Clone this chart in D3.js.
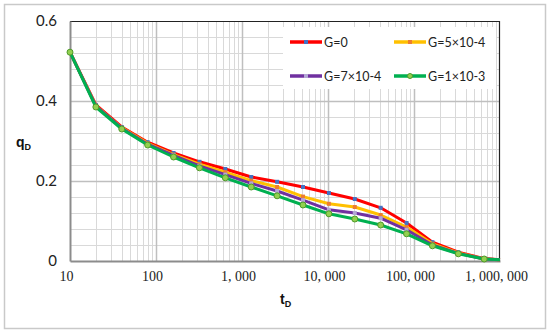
<!DOCTYPE html>
<html>
<head>
<meta charset="utf-8">
<script src="https://cdn.jsdelivr.net/npm/d3@7"></script>
<style>
	body { margin: 0; background: #fff; }
	svg { display: block; }
</style>
</head>
<body>
<svg id="chart"></svg>
<script>
// dimensionless time (doubling steps) and rate for each G
const tD = [10, 20, 40, 80, 160, 320, 640, 1280, 2560, 5120, 10240, 20480, 40960, 81920, 163840, 327680, 655360, 1000000];
const qG0 = [0.522, 0.390, 0.335, 0.297, 0.270, 0.248, 0.230, 0.210, 0.198, 0.185, 0.170, 0.155, 0.133, 0.095, 0.047, 0.022, 0.006, 0.003];
const qG5 = [0.522, 0.388, 0.333, 0.294, 0.266, 0.242, 0.222, 0.201, 0.185, 0.161, 0.143, 0.135, 0.115, 0.085, 0.043, 0.020, 0.005, 0.003];
const qG7 = [0.522, 0.387, 0.332, 0.292, 0.264, 0.238, 0.216, 0.194, 0.175, 0.152, 0.128, 0.120, 0.107, 0.078, 0.040, 0.019, 0.005, 0.003];
const qG10 = [0.522, 0.385, 0.330, 0.290, 0.260, 0.233, 0.208, 0.185, 0.163, 0.140, 0.118, 0.105, 0.090, 0.068, 0.038, 0.018, 0.005, 0.003];

const seriesNames = ["G=0", "G=5×10-4", "G=7×10-4", "G=1×10-3"];
const xTicks = [10, 100, 1000, 10000, 100000, 1000000];
const xTickLabels = ["10", "100", "1, 000", "10, 000", "100, 000", "1, 000, 000"];
const yTicks = [0, 0.2, 0.4, 0.6];

const series = [
	{ name: seriesNames[0], q: qG0, color: "#ff0000", marker: "#4472c4", shape: "square" },
	{ name: seriesNames[1], q: qG5, color: "#ffc000", marker: "#ed7d31", shape: "square" },
	{ name: seriesNames[2], q: qG7, color: "#7030a0", marker: "#b4a7d6", shape: "square" },
	{ name: seriesNames[3], q: qG10, color: "#00b050", marker: "#92d050", shape: "circle" }
];

let svgWidth = 550, svgHeight = 334;
let margin = { top: 21, right: 50, bottom: 73, left: 70 };
let width = svgWidth - margin.left - margin.right;
let height = svgHeight - margin.top - margin.bottom;

let svg = d3.select("#chart")
	.attr("width", svgWidth)
	.attr("height", svgHeight);

// outer frame
svg.append("rect")
	.attr("x", 4.5).attr("y", 4.5)
	.attr("width", 541).attr("height", 324)
	.attr("fill", "#fff")
	.attr("stroke", "#c9c9c9")
	.attr("stroke-width", 1.5);

let g = svg.append("g")
	.attr("transform", "translate(" + margin.left + "," + margin.top + ")");

//scales
let x = d3.scaleLog().domain([10, 1000000]).range([0, width]);
let y = d3.scaleLinear().domain([0, 0.6]).range([height, 0]);

// minor grid
let minorX = [];
for (let dec = 10; dec < 1000000; dec *= 10)
{
	for (let k = 2; k <= 9; k++) minorX.push(dec * k);
}
let minorY = d3.range(0.04, 0.6, 0.04).filter(v => Math.abs(v / 0.2 - Math.round(v / 0.2)) > 0.01);

g.append("g").selectAll("line")
	.data(minorX)
	.enter().append("line")
	.attr("x1", d => Math.round(x(d)) + 0.5).attr("x2", d => Math.round(x(d)) + 0.5)
	.attr("y1", 0).attr("y2", height)
	.attr("stroke", "#d9d9d9").attr("stroke-width", 1);

g.append("g").selectAll("line")
	.data(minorY)
	.enter().append("line")
	.attr("x1", 0).attr("x2", width)
	.attr("y1", d => Math.round(y(d)) + 0.5).attr("y2", d => Math.round(y(d)) + 0.5)
	.attr("stroke", "#d9d9d9").attr("stroke-width", 1);

// major grid
g.append("g").selectAll("line")
	.data(xTicks.slice(1, -1))
	.enter().append("line")
	.attr("x1", d => Math.round(x(d)) + 0.5).attr("x2", d => Math.round(x(d)) + 0.5)
	.attr("y1", 0).attr("y2", height)
	.attr("stroke", "#bfbfbf").attr("stroke-width", 1.5);

g.append("g").selectAll("line")
	.data(yTicks.slice(1, -1))
	.enter().append("line")
	.attr("x1", 0).attr("x2", width)
	.attr("y1", d => Math.round(y(d)) + 0.5).attr("y2", d => Math.round(y(d)) + 0.5)
	.attr("stroke", "#bfbfbf").attr("stroke-width", 1.5);

// plot border: top and right dark
g.append("path")
	.attr("d", "M0,0.5H" + (width - 0.5) + "V" + height)
	.attr("fill", "none")
	.attr("stroke", "#222")
	.attr("stroke-width", 1.2);

//append x-axis
let xAxis = g.append("g")
	.attr("transform", "translate(0," + height + ")")
	.call(d3.axisBottom(x).tickValues(xTicks).tickSize(0).tickPadding(10).tickFormat((d, i) => xTickLabels[i]));
xAxis.select(".domain").attr("stroke", "#8c8c8c").attr("stroke-width", 2);
xAxis.selectAll("text")
	.attr("dx", -4)
	.attr("font-family", "Liberation Serif, serif")
	.attr("font-size", 14)
	.attr("fill", "#222");

//append y-axis
let yAxis = g.append("g")
	.call(d3.axisLeft(y).tickValues(yTicks).tickSize(0).tickPadding(13).tickFormat(d => d === 0 ? "0" : d3.format(".1f")(d)));
yAxis.select(".domain").attr("stroke", "#8c8c8c").attr("stroke-width", 2);
yAxis.selectAll("text")
	.attr("font-family", "Lato, Open Sans, sans-serif")
	.attr("font-size", 15)
	.attr("fill", "#222");

// axis titles
let yTitle = svg.append("text")
	.attr("x", 16).attr("y", 147)
	.attr("font-family", "Liberation Sans, Arial, sans-serif")
	.attr("font-weight", "bold")
	.attr("font-size", 14)
	.attr("fill", "#111");
yTitle.append("tspan").text("q");
yTitle.append("tspan").attr("font-size", 9).attr("dy", 3).text("D");

let xTitle = svg.append("text")
	.attr("x", 280).attr("y", 304)
	.attr("font-family", "Liberation Sans, Arial, sans-serif")
	.attr("font-weight", "bold")
	.attr("font-size", 14)
	.attr("fill", "#111");
xTitle.append("tspan").text("t");
xTitle.append("tspan").attr("font-size", 9).attr("dy", 3).text("D");

// lines
let line = q => d3.line()
	.x((d, i) => x(tD[i]))
	.y(d => y(d))(q);

for (let i = 0; i < series.length; i++)
{
	let s = series[i];
	let pathGroup = g.append("g");

	pathGroup.append("path")
		.attr("d", line(s.q))
		.attr("fill", "none")
		.attr("stroke", s.color)
		.attr("stroke-width", 3)
		.attr("stroke-linejoin", "round");

	if (s.shape === "circle")
	{
		pathGroup.selectAll(".dot")
			.data(s.q.slice(0, -1))
			.enter().append("circle")
			.attr("cx", (d, j) => x(tD[j]))
			.attr("cy", d => y(d))
			.attr("r", 3)
			.attr("fill", s.marker)
			.attr("stroke", "#4f9a2a")
			.attr("stroke-width", 1);
	}
	else
	{
		pathGroup.selectAll(".dot")
			.data(s.q.slice(0, -1))
			.enter().append("rect")
			.attr("x", (d, j) => x(tD[j]) - 2)
			.attr("y", d => y(d) - 2)
			.attr("width", 4).attr("height", 4)
			.attr("fill", s.marker);
	}
}

// legend
let legend = svg.append("g");
legend.append("rect")
	.attr("x", 283).attr("y", 27)
	.attr("width", 213).attr("height", 62)
	.attr("fill", "#fff");

let legendPos = [[290, 42], [394, 42], [290, 76], [394, 76]];
for (let i = 0; i < series.length; i++)
{
	let s = series[i];
	let lx = legendPos[i][0], ly = legendPos[i][1];
	legend.append("line")
		.attr("x1", lx).attr("x2", lx + 32)
		.attr("y1", ly).attr("y2", ly)
		.attr("stroke", s.color)
		.attr("stroke-width", 3.5);
	if (s.shape === "circle")
	{
		legend.append("circle")
			.attr("cx", lx + 16).attr("cy", ly).attr("r", 2.5)
			.attr("fill", s.marker).attr("stroke", "#4f9a2a").attr("stroke-width", 1);
	}
	else
	{
		legend.append("rect")
			.attr("x", lx + 14).attr("y", ly - 2)
			.attr("width", 4).attr("height", 4)
			.attr("fill", s.marker);
	}
	legend.append("text")
		.attr("x", lx + 34).attr("y", ly + 5)
		.attr("font-family", "Lato, Open Sans, sans-serif")
		.attr("font-size", 12.5)
		.attr("fill", "#222")
		.text(s.name);
}
</script>
</body>
</html>
